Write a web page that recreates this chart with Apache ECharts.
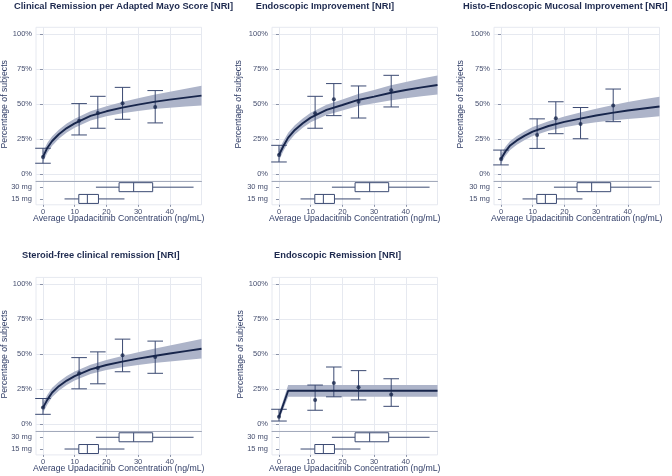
<!DOCTYPE html>
<html><head><meta charset="utf-8">
<script src="https://cdn.jsdelivr.net/npm/echarts@6/dist/echarts.min.js"></script>
<style>html,body{margin:0;padding:0;background:#fff}#c{width:672px;height:476px}</style>
</head><body><div id="c"></div>
<script>
// ---------- data ----------
const titles = [
  'Clinical Remission per Adapted Mayo Score [NRI]',
  'Endoscopic Improvement [NRI]',
  'Histo-Endoscopic Mucosal Improvement [NRI]',
  'Steroid-free clinical remission [NRI]',
  'Endoscopic Remission [NRI]'
];
const xTitle = 'Average Upadacitinib Concentration (ng/mL)';
const yTitle = 'Percentage of subjects';
const yTicks = [0, 25, 50, 75, 100];
const xTicks = [0, 10, 20, 30, 40];
const doseLabels = ['15 mg', '30 mg'];
const box15 = [6.8, 11.3, 14.0, 17.5, 25.7];
const box30 = [16.7, 24.0, 28.6, 34.6, 47.5];

const fitX = [0, 1.4, 2.9, 5, 7.5, 10, 15, 20, 25, 30, 35, 40, 45, 50];
const fitX5 = [0, 2.9, 50];

const p1Fit = [12.4, 19.0, 23.8, 28.6, 33.0, 36.4, 41.7, 45.0, 47.6, 49.8, 51.7, 53.3, 54.8, 56.2];
const p1Lo  = [8.8, 15.4, 20.4, 25.4, 29.8, 33.2, 38.4, 41.4, 43.6, 45.3, 46.6, 47.6, 48.5, 49.2];
const p1Hi  = [16.1, 22.5, 27.1, 31.8, 36.2, 39.6, 45.0, 48.6, 51.6, 54.3, 56.8, 59.0, 61.1, 63.2];

const p2Fit = [13.8, 20.2, 26.2, 31.7, 36.5, 40.5, 46.0, 49.5, 53.1, 55.5, 58.1, 60.2, 62.1, 63.8];
const p2Lo  = [9.8, 16.6, 22.8, 28.4, 33.2, 37.1, 42.4, 45.6, 48.8, 50.7, 52.8, 54.4, 55.8, 57.0];
const p2Hi  = [17.8, 23.8, 29.6, 35.0, 39.8, 43.9, 49.6, 53.4, 57.4, 60.3, 63.4, 66.0, 68.4, 70.6];

const p3Fit = [11.0, 16.3, 20.6, 24.2, 27.6, 30.5, 34.5, 37.4, 39.8, 42.0, 43.9, 45.6, 47.0, 48.4];
const p3Lo  = [7.5, 13.0, 17.4, 21.1, 24.5, 27.3, 31.1, 33.6, 35.5, 37.1, 38.4, 39.5, 40.4, 41.4];
const p3Hi  = [14.5, 19.6, 23.8, 27.3, 30.7, 33.7, 37.9, 41.2, 44.1, 46.9, 49.4, 51.7, 53.6, 55.4];

const p4Fit = [12.0, 17.7, 22.8, 27.3, 31.3, 34.5, 39.3, 42.4, 44.8, 47.0, 48.9, 50.6, 52.3, 54.0];
const p4Lo  = [8.3, 14.2, 19.5, 24.1, 28.1, 31.3, 36.0, 38.8, 40.8, 42.5, 43.8, 44.9, 46.0, 47.0];
const p4Hi  = [15.7, 21.2, 26.1, 30.5, 34.5, 37.7, 42.6, 46.0, 48.8, 51.5, 54.0, 56.3, 58.6, 61.0];

const p5Fit = [5.5, 24.0, 24.0];
const p5Lo  = [3.2, 19.8, 19.8];
const p5Hi  = [8.0, 28.1, 28.1];

const obsX = [0, 11.4, 17.3, 25.1, 35.4];
const p1Obs = [12.4, 38.3, 43.8, 50.7, 48.1];
const p1ObsLo = [7.9, 28.1, 32.9, 39.3, 36.7];
const p1ObsHi = [18.6, 50.5, 55.7, 62.1, 59.8];
const p2Obs = [13.8, 43.6, 53.6, 51.9, 60.0];
const p2ObsLo = [8.8, 32.9, 41.9, 40.2, 48.1];
const p2ObsHi = [20.7, 55.7, 64.8, 63.1, 70.7];
const p3Obs = [11.0, 28.1, 40.0, 36.0, 49.2];
const p3ObsLo = [6.7, 18.5, 29.0, 25.4, 37.6];
const p3ObsHi = [17.3, 39.6, 51.8, 47.7, 60.9];
const p4Obs = [12.0, 36.5, 40.3, 49.4, 48.2];
const p4ObsLo = [7.2, 25.4, 29.0, 37.6, 36.5];
const p4ObsHi = [18.5, 47.7, 51.8, 60.9, 59.5];
const p5Obs = [5.5, 17.5, 29.5, 26.6, 21.3];
const p5ObsLo = [2.4, 10.1, 19.7, 17.5, 12.9];
const p5ObsHi = [10.8, 28.1, 41.0, 38.4, 32.6];

// ---------- styling / layout ----------
const FONT = '"Liberation Sans", Arial, Helvetica, sans-serif';
const NAVY = '#17254b', ERR = '#3b4a72', BAND = '#adb4c9', GRID = '#e6e9f0';
const TITLE_C = '#1e2a4f', TICK_C = '#454e6e', AXT_C = '#2f3c66';
const XMIN = -2.2, XMAX = 50, YMIN = -5, YMAX = 105;
const W = 165.5, MH = 154, BH = 23.5;

const panels = [
  {fx: fitX, fit: p1Fit, lo: p1Lo, hi: p1Hi, obs: p1Obs, oLo: p1ObsLo, oHi: p1ObsHi},
  {fx: fitX, fit: p2Fit, lo: p2Lo, hi: p2Hi, obs: p2Obs, oLo: p2ObsLo, oHi: p2ObsHi},
  {fx: fitX, fit: p3Fit, lo: p3Lo, hi: p3Hi, obs: p3Obs, oLo: p3ObsLo, oHi: p3ObsHi},
  {fx: fitX, fit: p4Fit, lo: p4Lo, hi: p4Hi, obs: p4Obs, oLo: p4ObsLo, oHi: p4ObsHi},
  {fx: fitX5, fit: p5Fit, lo: p5Lo, hi: p5Hi, obs: p5Obs, oLo: p5ObsLo, oHi: p5ObsHi}
];
const layout = [
  {left: 36,  top: 27.3,  tx: 14,    ty: 6.5, yx: 5},
  {left: 272, top: 27.3,  tx: 255.7, ty: 6.5, yx: 239},
  {left: 494, top: 27.3,  tx: 463,   ty: 6.5, yx: 460.7},
  {left: 36,  top: 277.4, tx: 22,    ty: 255, yx: 4.5},
  {left: 272, top: 277.4, tx: 274,   ty: 255, yx: 240.7}
];

function renderBand(params, api) {
  if (params.dataIndexInside !== 0) return null;
  const n = params.dataInsideLength;
  const pts = [];
  for (let i = 0; i < n; i++) pts.push(api.coord([api.value(0, i), api.value(2, i)]));
  for (let i = n - 1; i >= 0; i--) pts.push(api.coord([api.value(0, i), api.value(1, i)]));
  return {type: 'polygon', shape: {points: pts}, style: {fill: BAND, stroke: null}};
}
function renderErr(params, api) {
  const x = api.value(0);
  const a = api.coord([x, api.value(1)]), b = api.coord([x, api.value(2)]);
  const w = 7.8, st = {stroke: ERR, lineWidth: 1};
  return {type: 'group', children: [
    {type: 'line', shape: {x1: a[0], y1: a[1], x2: b[0], y2: b[1]}, style: st},
    {type: 'line', shape: {x1: a[0] - w, y1: a[1], x2: a[0] + w, y2: a[1]}, style: st},
    {type: 'line', shape: {x1: b[0] - w, y1: b[1], x2: b[0] + w, y2: b[1]}, style: st}
  ]};
}
function renderBox(params, api) {
  const cat = api.value(0);
  const y = api.coord([0, cat])[1];
  const px = k => api.coord([api.value(k), cat])[0];
  const pMin = px(1), pQ1 = px(2), pMed = px(3), pQ3 = px(4), pMax = px(5);
  const h = 9, st = {stroke: ERR, lineWidth: 1};
  return {type: 'group', children: [
    {type: 'line', shape: {x1: pMin, y1: y, x2: pQ1, y2: y}, style: st},
    {type: 'line', shape: {x1: pQ3, y1: y, x2: pMax, y2: y}, style: st},
    {type: 'rect', shape: {x: pQ1, y: y - h / 2, width: pQ3 - pQ1, height: h}, style: {fill: '#fff', stroke: ERR, lineWidth: 1}},
    {type: 'line', shape: {x1: pMed, y1: y - h / 2, x2: pMed, y2: y + h / 2}, style: st}
  ]};
}

const grids = [], xAxes = [], yAxes = [], series = [], graphics = [];
panels.forEach((p, i) => {
  const L = layout[i];
  const gm = 2 * i, gb = 2 * i + 1;
  grids.push({left: L.left, top: L.top, width: W, height: MH, show: true, borderColor: GRID, borderWidth: 1, backgroundColor: '#fff'});
  grids.push({left: L.left, top: L.top + MH, width: W, height: BH, show: true, borderColor: GRID, borderWidth: 1, backgroundColor: '#fff'});
  xAxes.push({type: 'value', gridIndex: gm, min: XMIN, max: XMAX,
    axisLine: {show: true, onZero: false, lineStyle: {color: '#a3aabb', width: 1}},
    axisTick: {show: false, customValues: xTicks},
    axisLabel: {show: false, customValues: xTicks},
    splitLine: {show: true, lineStyle: {color: GRID, width: 1}}});
  yAxes.push({type: 'value', gridIndex: gm, min: YMIN, max: YMAX,
    axisLine: {show: false},
    axisTick: {show: true, length: 3, customValues: yTicks, lineStyle: {color: '#8a92a8'}},
    axisLabel: {show: true, customValues: yTicks, formatter: '{value}%', fontSize: 7.5, color: TICK_C, fontFamily: FONT, margin: 4},
    splitLine: {show: true, lineStyle: {color: GRID, width: 1}}});
  xAxes.push({type: 'value', gridIndex: gb, min: XMIN, max: XMAX,
    axisLine: {show: false, onZero: false},
    axisTick: {show: true, length: 2, customValues: xTicks, lineStyle: {color: '#8a92a8'}},
    axisLabel: {show: true, customValues: xTicks, fontSize: 7.5, color: TICK_C, fontFamily: FONT, margin: 3},
    splitLine: {show: true, lineStyle: {color: GRID, width: 1}}});
  yAxes.push({type: 'category', gridIndex: gb, data: doseLabels, boundaryGap: true,
    axisLine: {show: false},
    axisTick: {show: true, length: 3, alignWithLabel: true, lineStyle: {color: '#8a92a8'}},
    axisLabel: {show: true, fontSize: 7.5, color: TICK_C, fontFamily: FONT, margin: 4},
    splitLine: {show: false}});

  series.push({type: 'custom', xAxisIndex: gm, yAxisIndex: gm, z: 1, silent: true,
    renderItem: renderBand, encode: {x: 0, y: [1, 2]},
    data: p.fx.map((x, k) => [x, p.lo[k], p.hi[k]])});
  series.push({type: 'custom', xAxisIndex: gm, yAxisIndex: gm, z: 2, silent: true,
    renderItem: renderErr, encode: {x: 0, y: [1, 2]},
    data: obsX.map((x, k) => [x, p.oLo[k], p.oHi[k]])});
  series.push({type: 'line', xAxisIndex: gm, yAxisIndex: gm, z: 3, silent: true,
    showSymbol: false, smooth: false, lineStyle: {color: NAVY, width: 1.9},
    data: p.fx.map((x, k) => [x, p.fit[k]])});
  series.push({type: 'scatter', xAxisIndex: gm, yAxisIndex: gm, z: 4, silent: true,
    symbolSize: 4, itemStyle: {color: NAVY},
    data: obsX.map((x, k) => [x, p.obs[k]])});
  series.push({type: 'custom', xAxisIndex: gb, yAxisIndex: gb, z: 2, silent: true,
    renderItem: renderBox, encode: {x: [1, 2, 3, 4, 5], y: 0},
    data: [[0].concat(box15), [1].concat(box30)]});

  graphics.push({type: 'text', x: L.tx, y: L.ty, style: {text: titles[i], fontSize: 9.3, fontWeight: 'bold', fontFamily: FONT, fill: TITLE_C, align: 'left', verticalAlign: 'middle'}});
  graphics.push({type: 'text', x: L.yx, y: L.top + MH * (55 / 110), rotation: Math.PI / 2,
    style: {text: yTitle, fontSize: 8.7, fontFamily: FONT, fill: AXT_C, align: 'center', verticalAlign: 'middle'}});
  graphics.push({type: 'text', x: L.left + W / 2, y: L.top + MH + BH + 13.5,
    style: {text: xTitle, fontSize: 8.7, fontFamily: FONT, fill: AXT_C, align: 'center', verticalAlign: 'middle'}});
});

const chart = echarts.init(document.getElementById('c'));
chart.setOption({
  animation: false,
  backgroundColor: '#fff',
  grid: grids, xAxis: xAxes, yAxis: yAxes, series: series,
  graphic: graphics
});
</script>
</body></html>
